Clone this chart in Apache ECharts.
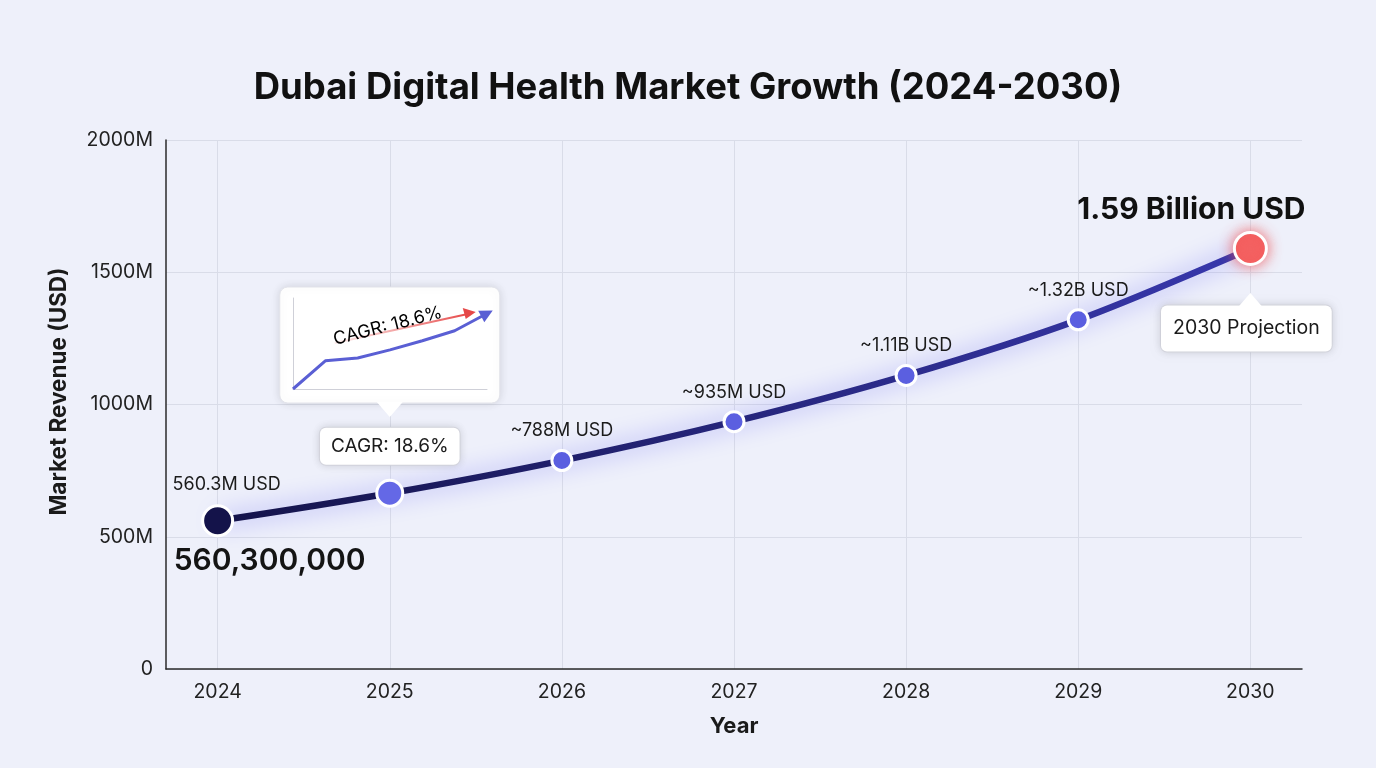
<!DOCTYPE html>
<html>
<head>
<meta charset="utf-8">
<title>Dubai Digital Health Market Growth</title>
<script src="https://cdn.jsdelivr.net/npm/echarts@6/dist/echarts.min.js"></script>
<style>
    html, body { margin: 0; padding: 0; background: #eef0fa; }
    #chart { width: 1376px; height: 768px; }
</style>
</head>
<body>
<div id="chart"></div>
<script>
    // data (values in millions USD)
    var years = [2024, 2025, 2026, 2027, 2028, 2029, 2030];
    var revenue = [560.3, 664.5, 788, 935, 1110, 1320, 1590];
    var pointLabels = ['560.3M USD', 'CAGR: 18.6%', '~788M USD', '~935M USD', '~1.11B USD', '~1.32B USD', '1.59 Billion USD'];
    var startLabel = '560,300,000';
    var endNote = '2030 Projection';
    var yTicks = [0, 500, 1000, 1500, 2000];

    // little sketch inside the CAGR callout
    var sparkSteps = [0, 1, 2, 3, 4, 5, 6];
    var sparkValues = [0, 3.1, 3.4, 4.3, 5.3, 6.4, 8.3];

    var font = 'Inter, "Noto Sans", sans-serif';
    var last = years.length - 1;

    var pointData = revenue.map(function (v, i) {
        var item = {
            value: [years[i], v],
            symbolSize: 20,
            itemStyle: { color: '#5b5fe0', borderColor: '#fff', borderWidth: 3 },
            label: {
                show: true, formatter: pointLabels[i], position: 'top', distance: 9,
                fontSize: 18, color: '#1b1b1b', fontFamily: font
            }
        };
        if (i === 0) {
            item.symbolSize = 30;
            item.itemStyle.color = '#14134a';
            item.label.distance = 11;
            item.label.offset = [9, 0];
        }
        if (i === 1) {
            item.symbolSize = 26;
            item.itemStyle.color = '#6468e6';
            item.label.fontSize = 19;
            item.label.distance = 14;
            item.label.backgroundColor = '#fff';
            item.label.borderColor = '#dcdde6';
            item.label.borderWidth = 1;
            item.label.borderRadius = 6;
            item.label.padding = [9, 11];
            item.label.shadowColor = 'rgba(0,0,0,0.12)';
            item.label.shadowBlur = 8;
        }
        if (i === last) {
            item.symbolSize = 32;
            item.itemStyle.color = '#f46262';
            item.itemStyle.shadowColor = 'rgba(244,80,80,0.8)';
            item.itemStyle.shadowBlur = 14;
            item.label.fontSize = 30;
            item.label.fontWeight = 'bold';
            item.label.color = '#111';
            item.label.distance = 6;
            item.label.offset = [-59, 0];
        }
        return item;
    });

    var chart = echarts.init(document.getElementById('chart'));
    chart.setOption({
        backgroundColor: '#eef0fa',
        textStyle: { fontFamily: font },
        title: {
            text: 'Dubai Digital Health Market Growth (2024-2030)',
            left: 'center',
            top: 65,
            textStyle: { fontSize: 36.5, fontWeight: 'bold', color: '#111', fontFamily: font }
        },
        grid: [
            { left: 166, right: 74, top: 140, bottom: 99 },
            { left: 293, top: 298, width: 194, height: 91 }
        ],
        xAxis: [
            {
                type: 'value',
                min: 2023.7,
                max: 2030.3,
                name: 'Year',
                nameLocation: 'middle',
                nameGap: 46,
                nameTextStyle: { fontSize: 22, fontWeight: 'bold', color: '#1a1a1a' },
                axisLine: { show: true, lineStyle: { color: '#2a2a2a', width: 1.5 } },
                axisTick: { show: false, customValues: years },
                axisLabel: {
                    customValues: years, fontSize: 19.5, color: '#222', margin: 13,
                    formatter: function (v) { return String(v); }
                },
                splitLine: { show: true, lineStyle: { color: '#d9dce8' } }
            },
            {
                type: 'category',
                gridIndex: 1,
                data: sparkSteps,
                boundaryGap: false,
                z: 3,
                axisLine: { lineStyle: { color: '#cfd0d8' } },
                axisTick: { show: false },
                axisLabel: { show: false },
                splitLine: { show: false }
            }
        ],
        yAxis: [
            {
                type: 'value',
                min: yTicks[0],
                max: yTicks[yTicks.length - 1],
                interval: yTicks[1] - yTicks[0],
                name: 'Market Revenue (USD)',
                nameLocation: 'middle',
                nameGap: 95,
                nameTextStyle: { fontSize: 22.5, fontWeight: 'bold', color: '#1a1a1a', padding: [0, 0, 0, 26] },
                axisLine: { show: true, lineStyle: { color: '#2a2a2a', width: 1.5 } },
                axisTick: { show: false },
                axisLabel: {
                    fontSize: 19.5, color: '#222', margin: 13,
                    formatter: function (v) { return v === 0 ? '0' : v + 'M'; }
                },
                splitLine: { lineStyle: { color: '#d9dce8' } }
            },
            {
                type: 'value',
                gridIndex: 1,
                min: 0,
                max: 10,
                z: 3,
                axisLine: { show: true, lineStyle: { color: '#cfd0d8' } },
                axisTick: { show: false },
                axisLabel: { show: false },
                splitLine: { show: false }
            }
        ],
        series: [
            {
                name: 'Market Revenue',
                type: 'line',
                smooth: 0.35,
                z: 4,
                data: pointData,
                symbol: 'circle',
                lineStyle: {
                    width: 6.5,
                    color: new echarts.graphic.LinearGradient(0, 0, 1, 0, [
                        { offset: 0, color: '#14134a' },
                        { offset: 1, color: '#3838ad' }
                    ]),
                    shadowColor: 'rgba(95,95,245,0.65)',
                    shadowBlur: 24
                },
                markPoint: {
                    symbol: 'circle',
                    symbolSize: 0,
                    data: [
                        {
                            coord: [years[0], revenue[0]],
                            label: {
                                show: true, formatter: startLabel, position: 'bottom', distance: 25,
                                offset: [52, 0], fontSize: 30, fontWeight: 600, color: '#141414'
                            }
                        },
                        {
                            coord: [years[last], revenue[last]],
                            label: {
                                show: true, formatter: endNote, position: 'bottom', distance: 57,
                                offset: [-4, 0],
                                fontSize: 19.5, color: '#1b1b1b', backgroundColor: '#fff',
                                borderColor: '#dcdde6', borderWidth: 1, borderRadius: 6,
                                padding: [13, 12], shadowColor: 'rgba(0,0,0,0.12)', shadowBlur: 8
                            }
                        }
                    ]
                }
            },
            {
                name: 'sketch',
                type: 'line',
                xAxisIndex: 1,
                yAxisIndex: 1,
                z: 6,
                silent: true,
                data: sparkValues.map(function (v, i) {
                    return i === sparkValues.length - 1
                        ? { value: v, symbol: 'triangle', symbolSize: 13, symbolRotate: -62 }
                        : { value: v, symbol: 'none' };
                }),
                lineStyle: { color: '#5a5fd4', width: 3 },
                itemStyle: { color: '#5a5fd4' }
            }
        ]
    });

    // callout bubbles placed relative to the plotted points
    var p1 = chart.convertToPixel({ xAxisIndex: 0, yAxisIndex: 0 }, [years[1], revenue[1]]);
    var pN = chart.convertToPixel({ xAxisIndex: 0, yAxisIndex: 0 }, [years[last], revenue[last]]);

    chart.setOption({
        graphic: [
            {
                type: 'rect', z: 1,
                shape: { x: p1[0] - 110, y: 287, width: 220, height: 116, r: 8 },
                style: { fill: '#fff', stroke: '#e2e3ea', lineWidth: 1, shadowColor: 'rgba(0,0,0,0.12)', shadowBlur: 10 }
            },
            {
                type: 'polygon', z: 2,
                shape: { points: [[p1[0] - 13, 402], [p1[0] + 13, 402], [p1[0], 417]] },
                style: { fill: '#fff' }
            },
            {
                type: 'line', z: 5,
                shape: { x1: p1[0] - 55, y1: 343, x2: p1[0] + 78, y2: 314 },
                style: {
                    stroke: new echarts.graphic.LinearGradient(0, 0, 1, 0, [
                        { offset: 0, color: 'rgba(235,90,90,0.1)' },
                        { offset: 1, color: 'rgba(230,70,70,1)' }
                    ]),
                    lineWidth: 1.8
                }
            },
            {
                type: 'polygon', z: 5,
                shape: { points: [[p1[0] + 86, 312], [p1[0] + 73, 308], [p1[0] + 76, 319]] },
                style: { fill: '#e54848' }
            },
            {
                type: 'text', z: 6,
                x: p1[0] - 2, y: 326,
                rotation: 0.25,
                style: {
                    text: '{a|CAGR: }{b|18.6%}',
                    align: 'center', verticalAlign: 'middle',
                    rich: {
                        a: { fontSize: 18, color: '#1a1a1a', fontFamily: font },
                        b: { fontSize: 18, color: '#e25555', fontFamily: font }
                    }
                }
            },
            {
                type: 'polygon', z: 7,
                shape: { points: [[pN[0] - 13, 308], [pN[0] + 13, 308], [pN[0], 293]] },
                style: { fill: '#fff' }
            }
        ]
    });
</script>
</body>
</html>
